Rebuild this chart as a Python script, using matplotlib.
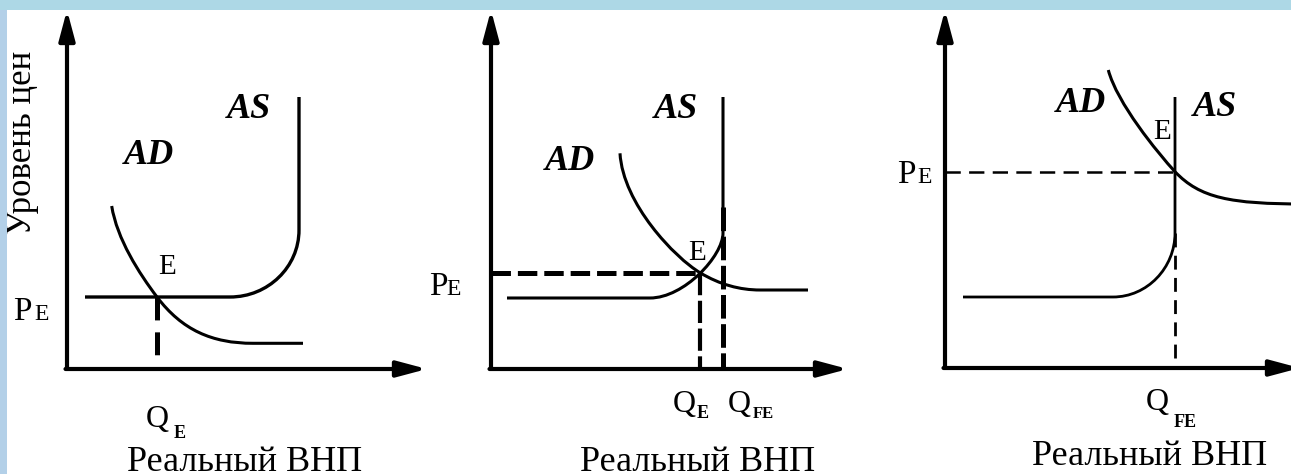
import matplotlib
matplotlib.use("Agg")
import matplotlib.pyplot as plt
from matplotlib.path import Path
from matplotlib.patches import PathPatch, Rectangle

plt.rcParams['font.family'] = ['Liberation Serif', 'DejaVu Serif']
plt.rcParams['lines.scale_dashes'] = False

W, H = 1291, 474

# ---------------- data (schematic units) ----------------
x_label = "Реальный ВНП"
y_label = "Уровень цен"

# panel 1
p1_PE, p1_QE = 7.2, 9.0
p1_AS = [(1.8, 7.2), (16.3, 7.2), (20.1, 7.2), (23.2, 10.2), (23.2, 13.9), (23.2, 27.2)]
p1_AS_codes = "MLCCCL"
p1_AD = [(4.47, 16.3), (5.0, 13.0), (7.2, 9.58), (9.0, 7.2), (11.5, 3.9), (14.5, 2.57),
         (18.6, 2.57), (23.6, 2.57)]
p1_AD_codes = "MCCCCCCL"

# panel 2
p2_PE, p2_QE, p2_QFE = 9.63, 20.9, 23.2
p2_AS = [(1.6, 7.1), (15.9, 7.1), (19.3, 7.1), (23.2, 11.3), (23.2, 13.6), (23.2, 27.2)]
p2_AS_codes = "MLCCCL"
p2_AD = [(12.9, 21.57), (13.2, 16.5), (18.4, 11.13), (20.9, 9.63), (22.9, 8.43), (24.9, 7.9),
         (26.9, 7.9), (31.7, 7.9)]
p2_AD_codes = "MCCCCCCL"
p2_QFE_top = 16.2

# panel 3
p3_PE, p3_QFE = 19.63, 23.0
p3_AS = [(1.8, 7.1), (16.8, 7.1), (20.2, 7.1), (23.0, 10.0), (23.0, 13.5), (23.0, 27.1)]
p3_AS_codes = "MLCCCL"
p3_AD = [(16.33, 29.8), (17.2, 26.5), (21.2, 21.6), (23.0, 19.63), (25.5, 17.0), (28.5, 16.4),
         (36.0, 16.4)]
p3_AD_codes = "MCCCCCC"
p3_QFE_top = 13.5

# ---------------- figure ----------------
fig = plt.figure(figsize=(W / 100, H / 100), dpi=100)
fig.patch.set_facecolor('white')
fig.patches.append(Rectangle((0, 1 - 10 / H), 1, 10 / H, transform=fig.transFigure,
                             facecolor='#ADD8E6', edgecolor='none', zorder=0))
fig.patches.append(Rectangle((0, 0), 7 / W, 1 - 10 / H, transform=fig.transFigure,
                             facecolor='#B3D0E8', edgecolor='none', zorder=0))


def make_axes(x0, x1, ox, oy, y0=10, y1=H, unit=10.0):
    ax = fig.add_axes([x0 / W, (H - y1) / H, (x1 - x0) / W, (y1 - y0) / H])
    ax.set_xlim((x0 - ox) / unit, (x1 - ox) / unit)
    ax.set_ylim((oy - y1) / unit, (oy - y0) / unit)
    ax.axis('off')
    ax.patch.set_alpha(0)
    return ax


CODE = {'M': Path.MOVETO, 'L': Path.LINETO, 'C': Path.CURVE4}


def curve(ax, verts, codes, lw=2.2):
    p = Path(verts, [CODE[c] for c in codes])
    ax.add_patch(PathPatch(p, facecolor='none', edgecolor='black', lw=lw,
                           capstyle='butt', joinstyle='round'))


def axes_arrows(ax, xtip, ytip):
    style = '-|>,head_length=0.6,head_width=0.16'
    ax.annotate('', xy=(0, ytip), xytext=(0, 0),
                arrowprops=dict(arrowstyle=style, lw=3.0, color='black',
                                mutation_scale=30, shrinkA=0, shrinkB=0),
                annotation_clip=False)
    ax.annotate('', xy=(xtip, 0), xytext=(-0.15, 0),
                arrowprops=dict(arrowstyle=style, lw=3.0, color='black',
                                mutation_scale=30, shrinkA=0, shrinkB=0),
                annotation_clip=False)


def dashed(ax, xs, ys, lw, dashes):
    ln, = ax.plot(xs, ys, color='black', lw=lw, solid_capstyle='butt',
                  dash_capstyle='butt')
    ln.set_dashes(dashes)


def bold_it(ax, x, y, s):
    ax.text(x, y, s, fontsize=26, fontweight='bold', fontstyle='italic',
            ha='center', va='center')


def pe_label(ax, xp, xe, y):
    ax.text(xp, y, 'P', fontsize=24, ha='center', va='baseline')
    ax.text(xe, y, 'E', fontsize=17, ha='center', va='baseline')


def q_label(ax, xq, yq, xs, ys, sub, subsize=13):
    ax.text(xq, yq, 'Q', fontsize=23, ha='center', va='baseline')
    ax.text(xs, ys, sub, fontsize=subsize, fontweight='bold', ha='center', va='baseline')


def e_label(ax, x, y):
    ax.text(x, y, 'E', fontsize=21, ha='center', va='center')


def x_title(ax, x, y):
    ax.text(x, y, x_label, fontsize=26, ha='center', va='baseline')


# ---------------- panel 1 ----------------
ax1 = make_axes(7, 430, 67, 369)
axes_arrows(ax1, 36.0, 35.9)
curve(ax1, p1_AS, p1_AS_codes, lw=2.4)
curve(ax1, p1_AD, p1_AD_codes)
dashed(ax1, [p1_QE, p1_QE], [p1_PE, 0], 3.6, (16.5, 8.6))
bold_it(ax1, 18.2, 25.9, 'AS')
bold_it(ax1, 8.2, 21.3, 'AD')
e_label(ax1, 10.0, 10.2)
pe_label(ax1, -4.5, -2.5, 4.9)
q_label(ax1, 9.0, -5.8, 11.3, -6.9, 'E')
x_title(ax1, 17.8, -10.2)
ax1.text(-4.4, 22.6, y_label, fontsize=25, rotation=90, ha='center', va='center')

# ---------------- panel 2 ----------------
ax2 = make_axes(430, 860, 491, 369)
axes_arrows(ax2, 35.7, 35.9)
curve(ax2, p2_AS, p2_AS_codes)
curve(ax2, p2_AD, p2_AD_codes)
dashed(ax2, [0, p2_QE], [p2_PE, p2_PE], 3.6, (14, 5))
dashed(ax2, [p2_QE, p2_QE], [p2_PE, 0], 3.0, (16, 4))
dashed(ax2, [p2_QFE, p2_QFE], [p2_QFE_top, 0], 3.6, (17, 4))
bold_it(ax2, 18.5, 25.9, 'AS')
bold_it(ax2, 7.9, 20.8, 'AD')
e_label(ax2, 20.6, 11.6)
pe_label(ax2, -5.3, -3.7, 7.4)
q_label(ax2, 19.3, -4.3, 21.2, -4.9, 'E')
q_label(ax2, 24.8, -4.3, 27.2, -4.9, 'FE', subsize=12)
x_title(ax2, 20.7, -10.2)

# ---------------- panel 3 ----------------
ax3 = make_axes(860, W, 945, 368)
axes_arrows(ax3, 35.5, 35.8)
curve(ax3, p3_AS, p3_AS_codes, lw=2.0)
curve(ax3, p3_AD, p3_AD_codes)
dashed(ax3, [0, p3_QFE], [p3_PE, p3_PE], 1.8, (11, 6))
dashed(ax3, [p3_QFE, p3_QFE], [p3_QFE_top, 0], 2.0, (10, 6))
bold_it(ax3, 13.6, 26.4, 'AD')
bold_it(ax3, 27.0, 26.1, 'AS')
e_label(ax3, 21.7, 23.6)
pe_label(ax3, -3.9, -2.0, 18.5)
q_label(ax3, 21.2, -4.2, 24.0, -5.9, 'FE')
x_title(ax3, 20.5, -9.7)

fig.savefig('out.png', dpi=100)
